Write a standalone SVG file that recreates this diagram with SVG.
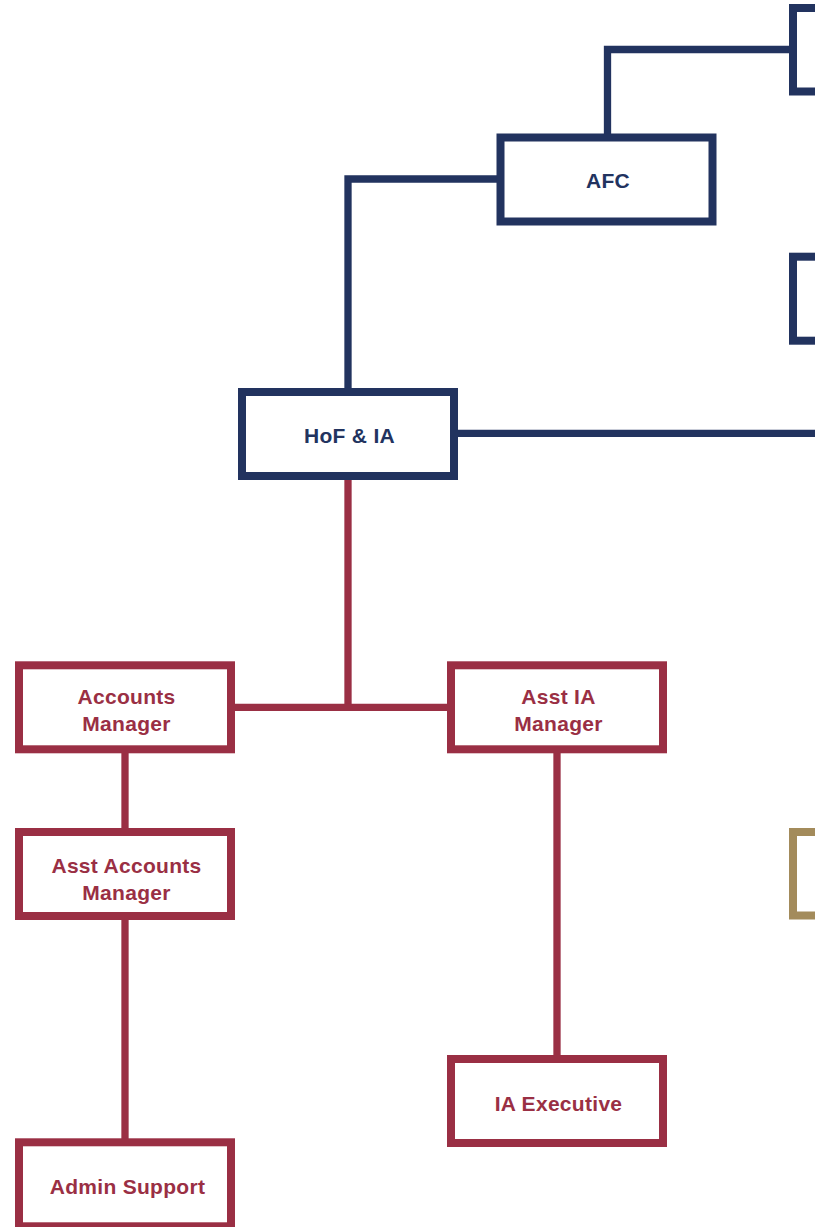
<svg xmlns="http://www.w3.org/2000/svg" width="815" height="1227" viewBox="0 0 815 1227">
<style>
.box{fill:#ffffff;stroke-width:8}
.navy{stroke:#22335f}
.red{stroke:#9a2f44}
.gold{stroke:#a38b5b}
.ln{fill:none;stroke-width:7.3;stroke-linejoin:miter;stroke-linecap:butt}
.t{font-family:"Liberation Sans",Arial,sans-serif;font-weight:bold;font-size:21px;text-anchor:middle;letter-spacing:0.3px}
.tn{fill:#22335f}
.tr{fill:#9a2f44}
</style>
<g id="connectors">
<path class="ln navy" d="M607.5 137.5 V49.5 H793"/>
<path class="ln navy" d="M500.5 179 H348 V392"/>
<path class="ln navy" d="M454 433.3 H815"/>
<path class="ln red" d="M348 476 V707.3"/>
<path class="ln red" d="M231 707.3 H451"/>
<path class="ln red" d="M125 749 V832"/>
<path class="ln red" d="M125 916 V1142"/>
<path class="ln red" d="M557 749 V1059"/>
</g>
<g id="node-top-right"><rect class="box navy" x="793" y="8" width="212" height="83.5"/></g>
<g id="node-mid-right"><rect class="box navy" x="793" y="256.7" width="212" height="84"/></g>
<g id="node-gold-right"><rect class="box gold" x="793" y="832" width="212" height="83.5"/></g>
<g id="node-afc"><rect class="box navy" x="500.5" y="137.5" width="212" height="84"/><text class="t tn" x="608" y="188">AFC</text></g>
<g id="node-hof"><rect class="box navy" x="242" y="392" width="212" height="84"/><text class="t tn" x="349.5" y="443">HoF &amp; IA</text></g>
<g id="node-accounts-manager"><rect class="box red" x="19" y="665.3" width="212" height="84"/><text class="t tr" x="126.5" y="704">Accounts</text><text class="t tr" x="126.5" y="731">Manager</text></g>
<g id="node-asst-ia-manager"><rect class="box red" x="451" y="665.3" width="212" height="84"/><text class="t tr" x="558.5" y="704">Asst IA</text><text class="t tr" x="558.5" y="731">Manager</text></g>
<g id="node-asst-accounts-manager"><rect class="box red" x="19" y="832" width="212" height="84"/><text class="t tr" x="126.5" y="873">Asst Accounts</text><text class="t tr" x="126.5" y="900">Manager</text></g>
<g id="node-ia-executive"><rect class="box red" x="451" y="1059" width="212" height="84"/><text class="t tr" x="558.5" y="1111">IA Executive</text></g>
<g id="node-admin-support"><rect class="box red" x="19" y="1142.3" width="212" height="84"/><text class="t tr" x="127.5" y="1194">Admin Support</text></g>
</svg>
